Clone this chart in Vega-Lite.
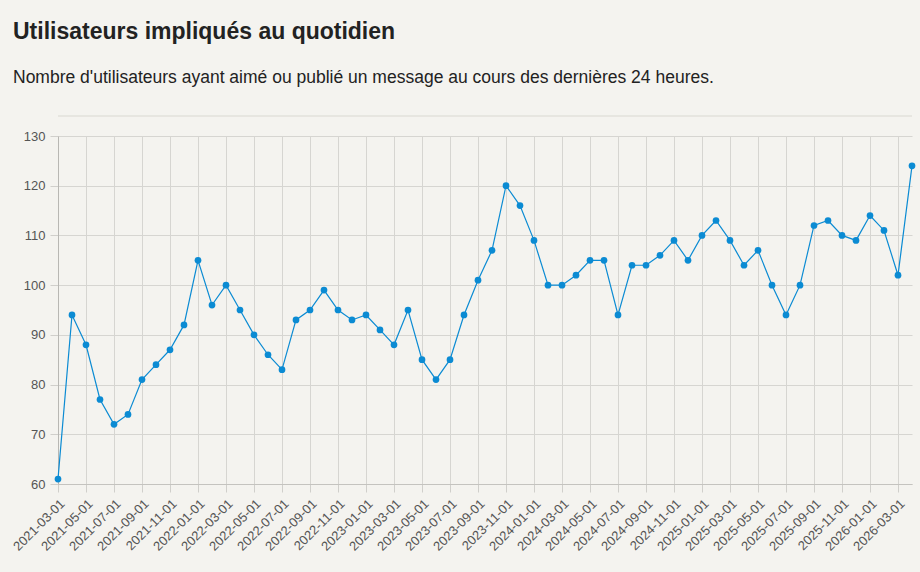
{
  "$schema": "https://vega.github.io/schema/vega-lite/v6.json",
  "width": 854,
  "height": 348,
  "autosize": {"type": "none"},
  "padding": {"left": 58, "top": 136, "right": 8, "bottom": 88},
  "background": "#f4f3ef",
  "config": {
    "font": "Liberation Sans",
    "view": {"stroke": null},
    "axis": {
      "gridColor": "#d6d5d1",
      "gridWidth": 1,
      "tickColor": "#d0cfcb",
      "tickSize": 8,
      "domainColor": "#c4c3bf",
      "labelColor": "#555555",
      "labelFontSize": 13,
      "labelFont": "Liberation Sans",
      "title": null
    }
  },
  "title": {
    "text": "Utilisateurs impliqués au quotidien",
    "subtitle": "Nombre d'utilisateurs ayant aimé ou publié un message au cours des dernières 24 heures.",
    "anchor": "start",
    "frame": "group",
    "dx": -45,
    "offset": 29,
    "font": "Liberation Sans",
    "fontSize": 23,
    "fontWeight": "bold",
    "color": "#222222",
    "subtitleFont": "Liberation Sans",
    "subtitleFontSize": 17.5,
    "subtitleColor": "#222222",
    "subtitlePadding": 25
  },
  "data": {
    "values": [
      {"date": "2021-03-01", "value": 61},
      {"date": "2021-04-01", "value": 94},
      {"date": "2021-05-01", "value": 88},
      {"date": "2021-06-01", "value": 77},
      {"date": "2021-07-01", "value": 72},
      {"date": "2021-08-01", "value": 74},
      {"date": "2021-09-01", "value": 81},
      {"date": "2021-10-01", "value": 84},
      {"date": "2021-11-01", "value": 87},
      {"date": "2021-12-01", "value": 92},
      {"date": "2022-01-01", "value": 105},
      {"date": "2022-02-01", "value": 96},
      {"date": "2022-03-01", "value": 100},
      {"date": "2022-04-01", "value": 95},
      {"date": "2022-05-01", "value": 90},
      {"date": "2022-06-01", "value": 86},
      {"date": "2022-07-01", "value": 83},
      {"date": "2022-08-01", "value": 93},
      {"date": "2022-09-01", "value": 95},
      {"date": "2022-10-01", "value": 99},
      {"date": "2022-11-01", "value": 95},
      {"date": "2022-12-01", "value": 93},
      {"date": "2023-01-01", "value": 94},
      {"date": "2023-02-01", "value": 91},
      {"date": "2023-03-01", "value": 88},
      {"date": "2023-04-01", "value": 95},
      {"date": "2023-05-01", "value": 85},
      {"date": "2023-06-01", "value": 81},
      {"date": "2023-07-01", "value": 85},
      {"date": "2023-08-01", "value": 94},
      {"date": "2023-09-01", "value": 101},
      {"date": "2023-10-01", "value": 107},
      {"date": "2023-11-01", "value": 120},
      {"date": "2023-12-01", "value": 116},
      {"date": "2024-01-01", "value": 109},
      {"date": "2024-02-01", "value": 100},
      {"date": "2024-03-01", "value": 100},
      {"date": "2024-04-01", "value": 102},
      {"date": "2024-05-01", "value": 105},
      {"date": "2024-06-01", "value": 105},
      {"date": "2024-07-01", "value": 94},
      {"date": "2024-08-01", "value": 104},
      {"date": "2024-09-01", "value": 104},
      {"date": "2024-10-01", "value": 106},
      {"date": "2024-11-01", "value": 109},
      {"date": "2024-12-01", "value": 105},
      {"date": "2025-01-01", "value": 110},
      {"date": "2025-02-01", "value": 113},
      {"date": "2025-03-01", "value": 109},
      {"date": "2025-04-01", "value": 104},
      {"date": "2025-05-01", "value": 107},
      {"date": "2025-06-01", "value": 100},
      {"date": "2025-07-01", "value": 94},
      {"date": "2025-08-01", "value": 100},
      {"date": "2025-09-01", "value": 112},
      {"date": "2025-10-01", "value": 113},
      {"date": "2025-11-01", "value": 110},
      {"date": "2025-12-01", "value": 109},
      {"date": "2026-01-01", "value": 114},
      {"date": "2026-02-01", "value": 111},
      {"date": "2026-03-01", "value": 102},
      {"date": "2026-04-01", "value": 124}
    ]
  },
  "encoding": {
    "x": {
      "field": "date",
      "type": "ordinal",
      "sort": null,
      "scale": {"type": "point", "padding": 0},
      "axis": {
        "values": ["2021-03-01","2021-05-01","2021-07-01","2021-09-01","2021-11-01","2022-01-01","2022-03-01","2022-05-01","2022-07-01","2022-09-01","2022-11-01","2023-01-01","2023-03-01","2023-05-01","2023-07-01","2023-09-01","2023-11-01","2024-01-01","2024-03-01","2024-05-01","2024-07-01","2024-09-01","2024-11-01","2025-01-01","2025-03-01","2025-05-01","2025-07-01","2025-09-01","2025-11-01","2026-01-01","2026-03-01"],
        "labelAngle": -45,
        "labelAlign": "right",
        "labelBaseline": "top",
        "labelPadding": 5,
        "grid": true,
        "labelOverlap": false
      }
    },
    "y": {
      "field": "value",
      "type": "quantitative",
      "scale": {"domain": [60, 130], "nice": false, "zero": false},
      "axis": {
        "values": [60, 70, 80, 90, 100, 110, 120, 130],
        "grid": true,
        "labelPadding": 5,
        "domainColor": "#b8b7b3"
      }
    }
  },
  "layer": [
    {
      "mark": {"type": "rule", "color": "#e6e5e1", "strokeWidth": 1, "clip": false},
      "encoding": {"x": null, "y": {"datum": 134}}
    },
    {
      "mark": {"type": "line", "color": "#0b8bd3", "strokeWidth": 1.2}
    },
    {
      "mark": {"type": "circle", "color": "#0b8bd3", "opacity": 1, "size": 45}
    }
  ]
}
